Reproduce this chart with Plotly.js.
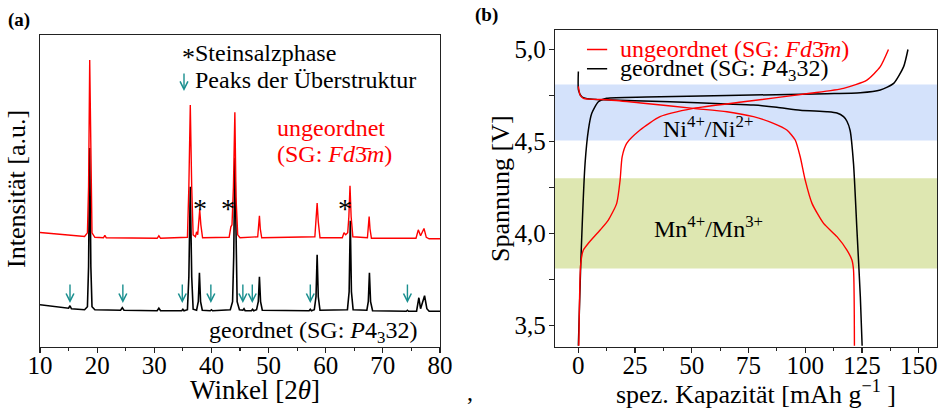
<!DOCTYPE html>
<html>
<head>
<meta charset="utf-8">
<script src="https://cdn.plot.ly/plotly-3.0.1.min.js"></script>
<style>html,body{margin:0;padding:0;background:#fff}#chart{width:941px;height:409px}</style>
</head>
<body>
<div id="chart"></div>
<script>
// ---------- (a) XRD patterns: 2theta [deg] and intensity [a.u.] ----------
const xrdOrderedX = [10,12,14.5,15.0,15.25,15.5,17.8,18.3,18.5,18.7,18.9,19.1,19.6,24.1,24.4,24.7,30.5,30.8,31.1,34.8,35.0,35.2,35.8,36.05,36.3,36.55,36.8,37.4,37.7,37.9,38.1,38.4,39.8,40.0,40.2,43.3,43.7,43.9,44.1,44.3,44.5,44.9,45.5,45.7,45.9,47.0,47.2,47.4,47.9,48.2,48.4,48.6,48.9,57.1,57.3,57.5,58.0,58.3,58.5,58.7,59.0,63.8,64.1,64.3,64.5,64.8,67.2,67.45,67.65,67.85,68.2,74.1,74.3,74.5,75.9,76.3,76.6,77.3,77.7,78.1,80];
const xrdOrderedY = [42,40.5,38.5,38.5,41,38,37,40,80,199,80,40,37,36.5,39,36.5,36,38.5,36,36,37.5,36,37,70,160,70,37.5,36.5,45,74,45,36.5,36,37,36,37,45,90,189,90,45,37,36.5,38,36,36,37.5,36,37,45,70,45,36.5,36,37.5,36,37,50,92,50,36.5,37,55,126,55,37,36.5,45,74,45,36,35.5,36.5,35.5,35.5,49,38,51,38,35.5,35.5];

const xrdDisorderedX = [10,14,17.8,18.3,18.5,18.7,18.9,19.1,19.6,21.1,21.35,21.6,30.5,30.8,31.1,35.8,36.05,36.3,36.55,36.8,37.2,37.4,37.6,37.75,37.95,38.15,38.45,43.1,43.4,43.6,43.85,44.1,44.3,44.6,45.0,48.1,48.25,48.4,48.55,48.8,58.1,58.3,58.5,58.7,59.0,62.9,63.2,63.5,63.85,64.05,64.25,64.45,64.75,67.3,67.45,67.6,67.75,68.0,75.8,76.2,76.6,77.2,77.6,78.1,80];
const xrdDisorderedY = [114.3,112.5,110.3,114,160,287,160,114,109.5,109,111.5,109,108.5,111,108.5,109.5,160,242,160,112,110,115,112,122,137,122,109,109.5,120,122,160,234.7,150,112,109,110,118,131,118,109,110,125,143.7,125,109,109,114,112,114,130,161,130,110,109,118,130.3,118,108.5,108.5,117,111,118.3,109.5,108,108];

// superstructure peaks (arrows) and rock-salt peaks (asterisks)
const superPeaks = [15.25,24.5,34.9,39.9,45.5,47.15,57.3,74.3];
const rockSaltPeaks = [38.0,42.85,63.4];

// ---------- (b) voltage profiles: capacity [mAh/g], voltage [V] ----------
const chOrdX = [0,1.06,2.96,4.41,5.91,8.82,12.5,30,65.5,109.6,124.3,133.1,139,143.4,145.3];
const chOrdY = [3.39,3.838,4.382,4.5625,4.653,4.716,4.735,4.742,4.75,4.76,4.765,4.78,4.816,4.907,5.0];
const disOrdX = [0,0.05,1.5,3.4,8.1,40.4,65.5,77.2,87.5,97.8,109.6,114,116.9,118.4,119.8,121.3,122.8,124.3,125.1];
const disOrdY = [4.88,4.78,4.743,4.734,4.729,4.716,4.704,4.698,4.686,4.67,4.662,4.655,4.635,4.61,4.56,4.38,4.02,3.657,3.39];
const chDisX = [0.2,1.06,2.2,4.4,9.6,13.2,16.9,18.4,19.3,21.3,27.2,36,50.7,72.8,102.2,116.9,127.2,133.1,136.7];
const chDisY = [3.39,3.838,3.91,3.947,4.019,4.073,4.164,4.29,4.417,4.49,4.5625,4.635,4.68,4.716,4.762,4.789,4.834,4.907,5.0];
const disDisX = [0,0.75,2.2,14,28.7,50.7,65.5,77.2,86,91.9,95.6,97.8,100,103,108.1,114,118.4,120.6,121.3,121.7];
const disDisY = [4.80,4.753,4.735,4.726,4.708,4.68,4.662,4.635,4.599,4.5625,4.508,4.417,4.29,4.164,4.055,3.983,3.91,3.856,3.802,3.39];

// redox regions [V]
const niBand = [4.505, 4.81];
const mnBand = [3.81, 4.30];

const FONT = 'Liberation Serif';
const RED = '#ff0000', BLK = '#000000', TEAL = '#1a8f8f', AX = '#222222';

const traces = [
  {x: xrdOrderedX, y: xrdOrderedY, xaxis:'x', yaxis:'y', mode:'lines', line:{color:BLK, width:1.6}, showlegend:false, hoverinfo:'skip'},
  {x: xrdDisorderedX, y: xrdDisorderedY, xaxis:'x', yaxis:'y', mode:'lines', line:{color:RED, width:1.4}, showlegend:false, hoverinfo:'skip'},
  {x: chOrdX, y: chOrdY, xaxis:'x2', yaxis:'y2', mode:'lines', line:{color:BLK, width:1.5, shape:'spline', smoothing:0.6}, showlegend:false},
  {x: disOrdX, y: disOrdY, xaxis:'x2', yaxis:'y2', mode:'lines', line:{color:BLK, width:1.5, shape:'spline', smoothing:0.6}, showlegend:false},
  {x: chDisX, y: chDisY, xaxis:'x2', yaxis:'y2', mode:'lines', line:{color:RED, width:1.4, shape:'spline', smoothing:0.6}, showlegend:false},
  {x: disDisX, y: disDisY, xaxis:'x2', yaxis:'y2', mode:'lines', line:{color:RED, width:1.4, shape:'spline', smoothing:0.6}, showlegend:false}
];

const annotations = [];
function txt(o){ annotations.push(Object.assign({showarrow:false, font:{family:FONT, size:24, color:BLK}}, o)); }

// panel labels
txt({xref:'paper', yref:'paper', x:6/941, y:1-20/409, xanchor:'left', yanchor:'middle', text:'<b>(a)</b>', font:{family:FONT, size:19, color:BLK}});
txt({xref:'paper', yref:'paper', x:473/941, y:1-15/409, xanchor:'left', yanchor:'middle', text:'<b>(b)</b>', font:{family:FONT, size:19, color:BLK}});
txt({xref:'paper', yref:'paper', x:470/941, y:1-392/409, xanchor:'center', yanchor:'middle', text:','});

// axis titles
txt({xref:'paper', yref:'paper', x:255/941, y:1-390/409, xanchor:'center', yanchor:'middle', text:'Winkel [2<i>θ</i>]', font:{family:FONT, size:27, color:BLK}});
txt({xref:'paper', yref:'paper', x:17/941, y:1-189/409, xanchor:'center', yanchor:'middle', textangle:-90, text:'Intensität [a.u.]', font:{family:FONT, size:26, color:BLK}});
txt({xref:'paper', yref:'paper', x:756/941, y:1-392/409, xanchor:'center', yanchor:'middle', text:'spez. Kapazität [mAh g<sup>−1</sup> ]', font:{family:FONT, size:26, color:BLK}});
txt({xref:'paper', yref:'paper', x:501/941, y:1-189/409, xanchor:'center', yanchor:'middle', textangle:-90, text:'Spannung [V]', font:{family:FONT, size:26, color:BLK}});

// panel (a) texts
txt({xref:'x', yref:'y', x:34.5, y:289, xanchor:'left', yanchor:'middle', text:'*', font:{family:FONT, size:26, color:BLK}});
txt({xref:'x', yref:'y', x:36.8, y:294, xanchor:'left', yanchor:'middle', text:'Steinsalzphase'});
txt({xref:'x', yref:'y', x:36.8, y:267, xanchor:'left', yanchor:'middle', text:'Peaks der Überstruktur'});
annotations.push({xref:'x', yref:'y', x:35.2, y:256, ax:0, ay:-19, axref:'pixel', ayref:'pixel', text:'', showarrow:true, arrowhead:5, arrowsize:1.1, arrowwidth:1.4, arrowcolor:TEAL});
txt({xref:'x', yref:'y', x:51.1, y:219.3, xanchor:'left', yanchor:'middle', text:'ungeordnet', font:{family:FONT, size:24, color:RED}});
txt({xref:'x', yref:'y', x:51.1, y:193, xanchor:'left', yanchor:'middle', text:'(SG: <i>Fd</i>3\u0304<i>m</i>)', font:{family:FONT, size:24, color:RED}});
txt({xref:'x', yref:'y', x:39.2, y:14.7, xanchor:'left', yanchor:'middle', text:'geordnet (SG: <i>P</i>4<sub>3</sub>32)'});
rockSaltPeaks.forEach(p => txt({xref:'x', yref:'y', x:p, y:138, xanchor:'center', yanchor:'middle', text:'*', font:{family:FONT, size:28, color:BLK}}));
superPeaks.forEach(p => annotations.push({xref:'x', yref:'y', x:p, y:43.7, ax:0, ay:-20, axref:'pixel', ayref:'pixel', text:'', showarrow:true, arrowhead:5, arrowsize:1.1, arrowwidth:1.4, arrowcolor:TEAL}));

// panel (b) texts
txt({xref:'x2', yref:'y2', x:57.2, y:4.579, xanchor:'center', yanchor:'middle', text:'Ni<sup>4+</sup>/Ni<sup>2+</sup>'});
txt({xref:'x2', yref:'y2', x:57.2, y:4.037, xanchor:'center', yanchor:'middle', text:'Mn<sup>4+</sup>/Mn<sup>3+</sup>'});
txt({xref:'x2', yref:'y2', x:17.5, y:5.003, xanchor:'left', yanchor:'middle', text:'ungeordnet (SG: <i>Fd</i>3\u0304<i>m</i>)', font:{family:FONT, size:24, color:RED}});
txt({xref:'x2', yref:'y2', x:17.5, y:4.889, xanchor:'left', yanchor:'middle', text:'geordnet (SG: <i>P</i>4<sub>3</sub>32)'});

const shapes = [
  {type:'rect', xref:'x2 domain', yref:'y2', x0:0, x1:1, y0:niBand[0], y1:niBand[1], fillcolor:'#d4e2fb', line:{width:0}, layer:'below'},
  {type:'rect', xref:'x2 domain', yref:'y2', x0:0, x1:1, y0:mnBand[0], y1:mnBand[1], fillcolor:'#dee7b1', line:{width:0}, layer:'below'},
  {type:'line', xref:'x2', yref:'y2', x0:3.8, x1:12.7, y0:5.0, y1:5.0, line:{color:RED, width:1.5}},
  {type:'line', xref:'x2', yref:'y2', x0:3.8, x1:12.7, y0:4.895, y1:4.895, line:{color:BLK, width:1.5}}
];

const axBase = {showline:true, mirror:true, linecolor:AX, linewidth:1.3, zeroline:false, showgrid:false, ticks:'outside', tickcolor:AX, tickwidth:1.2, tickfont:{family:'Liberation Serif', size:25, color:BLK}};

const layout = {
  width:941, height:409,
  margin:{l:0, r:0, t:0, b:0, pad:0},
  paper_bgcolor:'#ffffff', plot_bgcolor:'rgba(0,0,0,0)',
  separators:', ',
  showlegend:false,
  font:{family:FONT, color:BLK},
  xaxis: Object.assign({}, axBase, {domain:[40/941, 440/941], range:[10,80], tickvals:[10,20,30,40,50,60,70,80], ticklen:5, ticklabelstandoff:-9, minor:{tickvals:[15,25,35,45,55,65,75], ticks:'outside', ticklen:3, tickcolor:AX, tickwidth:1.2}, anchor:'y'}),
  yaxis: Object.assign({}, axBase, {domain:[1-346.7/409, 1-35/409], range:[0,312], ticks:'', showticklabels:false, anchor:'x'}),
  xaxis2: Object.assign({}, axBase, {domain:[555/941, 937/941], range:[-10.3,158.1], tickvals:[0,25,50,75,100,125,150], ticklen:5, ticklabelstandoff:-9, minor:{tickvals:[-12.5,12.5,37.5,62.5,87.5,112.5,137.5], ticks:'outside', ticklen:3, tickcolor:AX, tickwidth:1.2}, anchor:'y2'}),
  yaxis2: Object.assign({}, axBase, {domain:[1-346.7/409, 1-30/409], range:[3.385,5.106], tickvals:[3.5,4.0,4.5,5.0], ticktext:['3,5','4,0','4,5','5,0'], ticklen:5, ticklabelstandoff:-2, minor:{tickvals:[3.75,4.25,4.75], ticks:'outside', ticklen:5, tickcolor:AX, tickwidth:1.2}, anchor:'x2'}),
  annotations: annotations,
  shapes: shapes
};

Plotly.newPlot('chart', traces, layout, {staticPlot:true, displayModeBar:false});
</script>
</body>
</html>
